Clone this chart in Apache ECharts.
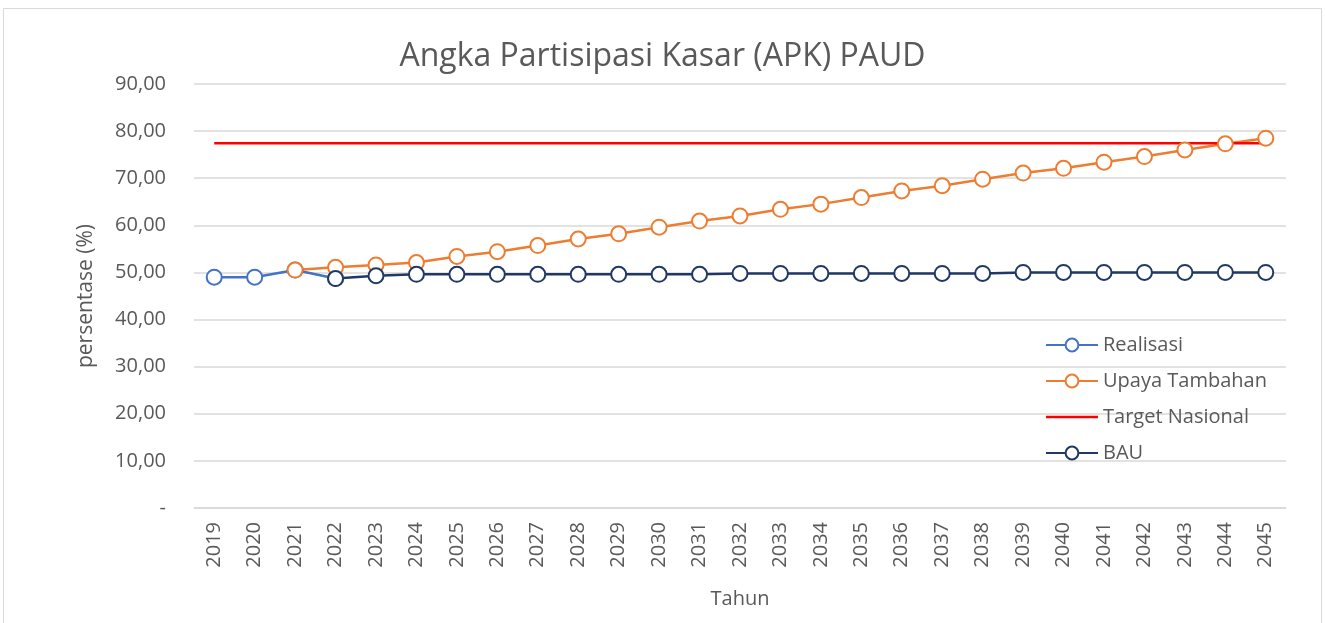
<!DOCTYPE html>
<html>
<head>
<meta charset="utf-8">
<script src="https://cdn.jsdelivr.net/npm/echarts@6/dist/echarts.min.js"></script>
<style>
  html, body { margin: 0; padding: 0; background: #ffffff; }
  #chart { width: 1325px; height: 623px; }
</style>
</head>
<body>
<div id="chart"></div>
<script>
// Years on the category axis
var years = ['2019','2020','2021','2022','2023','2024','2025','2026','2027','2028','2029','2030','2031','2032','2033','2034','2035','2036','2037','2038','2039','2040','2041','2042','2043','2044','2045'];

// APK PAUD (%) per scenario
var realisasi = [49.0, 49.0, 50.5, 48.7, null, null, null, null, null, null, null, null, null, null, null, null, null, null, null, null, null, null, null, null, null, null, null];
var upayaTambahan = [null, null, 50.5, 51.1, 51.6, 52.1, 53.4, 54.4, 55.7, 57.1, 58.2, 59.6, 60.9, 62.0, 63.4, 64.5, 65.9, 67.3, 68.4, 69.8, 71.1, 72.1, 73.4, 74.6, 76.0, 77.3, 78.5];
var targetNasional = [77.4, 77.4, 77.4, 77.4, 77.4, 77.4, 77.4, 77.4, 77.4, 77.4, 77.4, 77.4, 77.4, 77.4, 77.4, 77.4, 77.4, 77.4, 77.4, 77.4, 77.4, 77.4, 77.4, 77.4, 77.4, 77.4, 77.4];
var bau = [null, null, null, 48.7, 49.3, 49.6, 49.6, 49.6, 49.6, 49.6, 49.6, 49.6, 49.6, 49.8, 49.8, 49.8, 49.8, 49.8, 49.8, 49.8, 50.0, 50.0, 50.0, 50.0, 50.0, 50.0, 50.0];

var FONT = '"Open Sans", sans-serif';
var TEXT = '#595959';

var chart = echarts.init(document.getElementById('chart'), null, { renderer: 'canvas' });

function lineSeries(name, data, color, withSymbol) {
  return {
    name: name,
    type: 'line',
    data: data,
    color: color,
    symbol: withSymbol ? 'emptyCircle' : 'none',
    symbolSize: 15,
    showSymbol: withSymbol,
    connectNulls: false,
    lineStyle: { color: color, width: 2.5 },
    itemStyle: { color: color, borderColor: color, borderWidth: 2 },
    emphasis: { disabled: true },
    animation: false
  };
}

chart.setOption({
  backgroundColor: '#ffffff',
  animation: false,
  graphic: [{
    type: 'rect',
    shape: { x: 3.5, y: 8.5, width: 1318, height: 640 },
    style: { fill: 'none', stroke: '#d9d9d9', lineWidth: 1 },
    silent: true
  }],
  title: {
    text: 'Angka Partisipasi Kasar (APK) PAUD',
    left: 'center',
    top: 36,
    textStyle: { fontFamily: FONT, fontSize: 32, fontWeight: 'normal', color: TEXT }
  },
  legend: {
    orient: 'vertical',
    left: 1040,
    top: 330,
    itemWidth: 52,
    itemHeight: 16,
    itemGap: 16,
    textStyle: { fontFamily: FONT, fontSize: 20, color: TEXT },
    data: [
      'Realisasi',
      'Upaya Tambahan',
      // plain line key for the target (no marker)
      { name: 'Target Nasional', icon: 'path://M0,0 L52,0 L52,2.5 L0,2.5 Z', itemStyle: { borderWidth: 0 } },
      'BAU'
    ]
  },
  grid: { left: 194, right: 39, top: 84, bottom: 115, containLabel: false },
  xAxis: {
    type: 'category',
    data: years,
    boundaryGap: true,
    name: 'Tahun',
    nameLocation: 'middle',
    nameGap: 81,
    nameTextStyle: { fontFamily: FONT, fontSize: 20, color: TEXT },
    axisLine: { show: true, lineStyle: { color: '#d9d9d9', width: 1.5 } },
    axisTick: { show: false },
    axisLabel: { rotate: 90, margin: 14, fontFamily: FONT, fontSize: 20, color: TEXT }
  },
  yAxis: {
    type: 'value',
    min: 0,
    max: 90,
    interval: 10,
    name: 'persentase (%)',
    nameLocation: 'middle',
    nameGap: 97,
    nameRotate: 90,
    nameTextStyle: { fontFamily: FONT, fontSize: 21, color: TEXT },
    axisLine: { show: false },
    axisTick: { show: false },
    splitLine: { lineStyle: { color: '#d9d9d9', width: 1.5 } },
    axisLabel: {
      margin: 28,
      fontFamily: FONT,
      fontSize: 20,
      color: TEXT,
      formatter: function (v) { return v === 0 ? '-' : v.toFixed(2).replace('.', ','); }
    }
  },
  series: [
    lineSeries('Realisasi', realisasi, '#4472C4', true),
    lineSeries('Upaya Tambahan', upayaTambahan, '#ED7D31', true),
    lineSeries('Target Nasional', targetNasional, '#FF0000', false),
    lineSeries('BAU', bau, '#203864', true)
  ]
});
</script>
</body>
</html>
